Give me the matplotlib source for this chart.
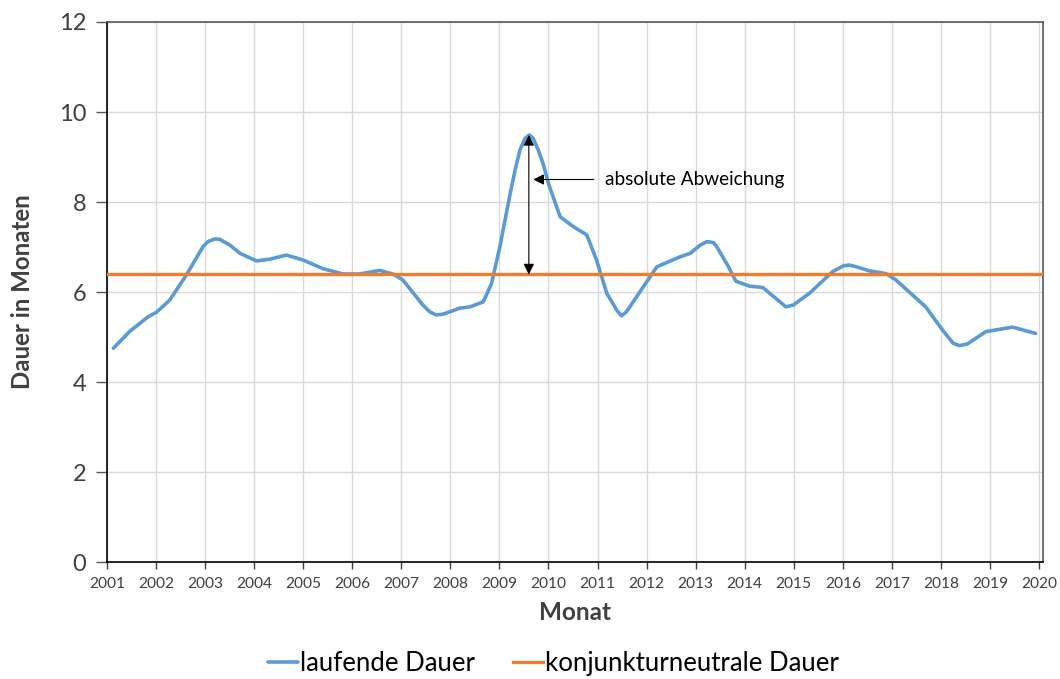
import matplotlib
matplotlib.use("Agg")
import matplotlib.pyplot as plt
import numpy as np

plt.rcParams['font.family'] = ['Lato', 'DejaVu Sans']

jahr = [2001.13, 2001.47, 2001.84, 2002.01, 2002.28, 2002.62, 2002.96, 2003.06,
        2003.20, 2003.30, 2003.51, 2003.71, 2004.05, 2004.32, 2004.66, 2005.00,
        2005.40, 2005.81, 2006.15, 2006.56, 2006.83, 2007.03, 2007.44, 2007.58,
        2007.71, 2007.86, 2008.19, 2008.40, 2008.67, 2008.84, 2009.01, 2009.22,
        2009.32, 2009.42, 2009.52, 2009.61, 2009.69, 2009.79, 2009.90, 2010.00,
        2010.24, 2010.51, 2010.78, 2010.98, 2011.19, 2011.39, 2011.49, 2011.59,
        2011.80, 2012.21, 2012.68, 2012.89, 2013.09, 2013.23, 2013.36, 2013.43,
        2013.67, 2013.82, 2014.10, 2014.37, 2014.72, 2014.84, 2014.99, 2015.32,
        2015.79, 2016.01, 2016.13, 2016.28, 2016.54, 2016.88, 2017.08, 2017.69,
        2018.03, 2018.25, 2018.37, 2018.53, 2018.92, 2019.46, 2019.93]
dauer = [4.75, 5.13, 5.45, 5.55, 5.82, 6.38, 7.01, 7.12,
         7.18, 7.17, 7.04, 6.86, 6.69, 6.73, 6.82, 6.71,
         6.52, 6.40, 6.40, 6.48, 6.40, 6.27, 5.71, 5.56,
         5.49, 5.51, 5.64, 5.67, 5.78, 6.19, 7.01, 8.19,
         8.71, 9.16, 9.41, 9.49, 9.41, 9.16, 8.82, 8.41,
         7.67, 7.45, 7.27, 6.71, 5.97, 5.60, 5.47, 5.56,
         5.90, 6.56, 6.78, 6.86, 7.04, 7.12, 7.10, 7.01,
         6.56, 6.24, 6.13, 6.10, 5.78, 5.67, 5.71, 5.97,
         6.45, 6.58, 6.60, 6.56, 6.47, 6.41, 6.27, 5.67,
         5.16, 4.86, 4.81, 4.84, 5.12, 5.22, 5.08]

neutral = 6.39
peak_x = 2009.6
peak_y = 9.49
x_ticks = list(range(2001, 2021))
y_ticks = [0, 2, 4, 6, 8, 10, 12]

fig = plt.figure(figsize=(10.6, 6.79), dpi=100)
ax = fig.add_axes([0.1009, 0.1723, 0.8830, 0.7953])

ax.plot(jahr, dauer, color='#5B9BD5', lw=2.6, solid_joinstyle='round',
        solid_capstyle='round', label='laufende Dauer', zorder=3)
ax.axhline(neutral, xmin=0, xmax=0.998, color='#ED7D31', lw=2.4,
           label='konjunkturneutrale Dauer', zorder=3)

# Pfeile
ax.annotate('', xy=(peak_x, peak_y), xytext=(peak_x, neutral),
            arrowprops=dict(arrowstyle='<|-|>', color='black', lw=0.8,
                            mutation_scale=16, shrinkA=0, shrinkB=0), zorder=4)
ax.annotate('absolute Abweichung', xy=(2009.69, 8.5), xytext=(2011.15, 8.5),
            va='center', ha='left', fontsize=13.7, color='black',
            arrowprops=dict(arrowstyle='-|>', color='black', lw=0.8,
                            mutation_scale=16, shrinkA=6, shrinkB=0), zorder=4)

ax.set_xlim(2001, 2020.08)
ax.set_ylim(0, 12)
ax.set_xticks(x_ticks)
ax.set_yticks(y_ticks)
ax.tick_params(axis='x', labelsize=11.2, colors='#404040', length=5, width=1,
               direction='out', pad=6)
ax.tick_params(axis='y', labelsize=17, colors='#595959', length=8, width=1,
               direction='out', pad=7)
for lab in ax.get_yticklabels():
    lab.set_color('#404040')

ax.grid(True, color='#D9D9D9', lw=1, zorder=0)
ax.set_axisbelow(True)
ax.spines['left'].set_color('black')
ax.spines['bottom'].set_color('black')
ax.spines['top'].set_color('#595959')
ax.spines['right'].set_color('#595959')
for s in ax.spines.values():
    s.set_linewidth(1.2)

ax.set_xlabel('Monat', fontsize=17.5, fontweight='bold', color='#404040', labelpad=7)
ax.set_ylabel('Dauer in Monaten', fontsize=17.3, fontweight='bold', color='#404040', labelpad=18)

fig.legend(loc='lower center', bbox_to_anchor=(0.522, 0.004), ncol=2, frameon=False,
           fontsize=18.5, handlelength=1.15, handletextpad=0.08, columnspacing=1.5,
           borderaxespad=0, borderpad=0)

fig.savefig('out.png', dpi=100)
